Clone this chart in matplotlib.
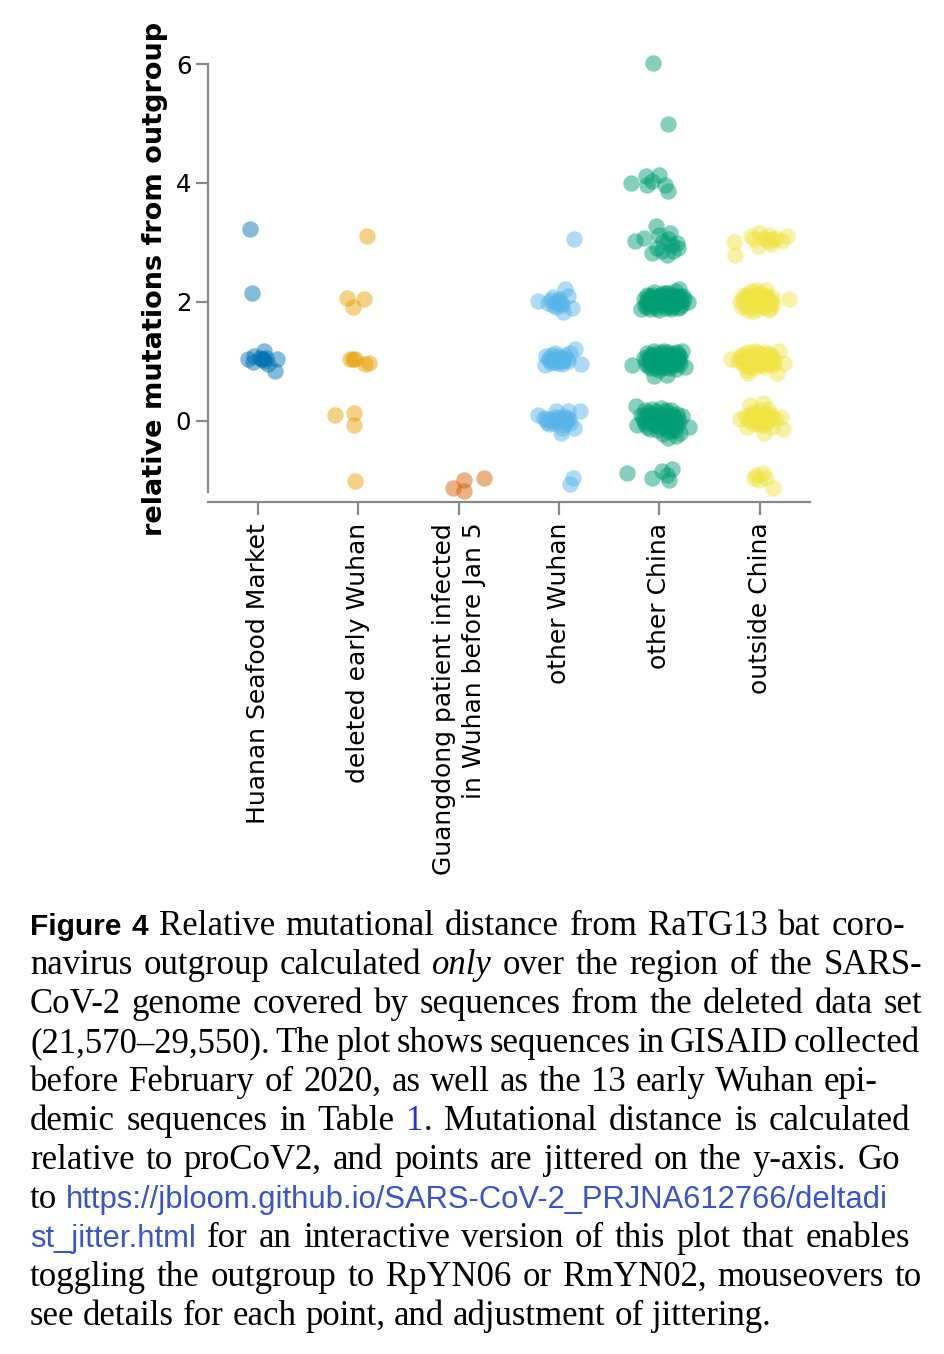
import matplotlib
matplotlib.use("Agg")
import matplotlib.pyplot as plt

# categories and colours (Okabe-Ito)
categories = ["Huanan Seafood Market", "deleted early Wuhan",
              "Guangdong patient infected\nin Wuhan before Jan 5",
              "other Wuhan", "other China", "outside China"]
colors = ["#0072B2", "#E69F00", "#D55E00", "#56B4E9", "#009E73", "#F0E442"]

# points: (horizontal jitter, relative mutations)
huanan = [(-0.08, 3.22), (-0.06, 2.15), (-0.10, 1.04), (-0.04, 1.08), (-0.05, 0.99),
          (0.06, 1.17), (0.05, 1.04), (0.10, 0.96), (0.19, 1.04), (0.17, 0.83),
          (0.02, 1.06), (0.08, 1.06), (0.04, 1.03), (0.06, 1.00)]
deleted = [(0.08, 3.10), (-0.11, 2.07), (0.05, 2.05), (-0.05, 1.91), (-0.05, 1.04),
           (-0.03, 1.04), (0.10, 0.97), (0.06, 0.95), (-0.23, 0.10), (-0.04, 0.13),
           (-0.04, -0.08), (-0.03, -1.01), (-0.08, 1.04)]
guangdong = [(-0.06, -1.13), (0.05, -0.99), (0.05, -1.19), (0.25, -0.96)]
other_wuhan = [(0.15, 3.05),
               (-0.21, 2.01), (-0.11, 1.98), (-0.06, 2.08), (-0.01, 2.01), (0.06, 2.21),
               (0.09, 2.09), (0.13, 1.90), (0.04, 1.82), (-0.03, 1.92), (0.02, 1.98),
               (-0.08, 2.03), (-0.04, 1.98), (0.00, 2.05), (0.03, 1.94), (-0.06, 1.95),
               (-0.13, 1.08), (-0.14, 0.93), (-0.04, 1.14), (0.02, 1.06), (0.09, 1.00),
               (0.16, 1.20), (0.22, 0.95), (-0.08, 0.97), (-0.01, 0.97), (0.06, 1.11),
               (0.11, 1.14), (-0.06, 1.03), (0.00, 1.05), (0.04, 1.00), (-0.10, 1.02),
               (-0.10, 1.06), (-0.05, 0.99), (-0.02, 1.08), (0.01, 1.01), (0.05, 1.06),
               (0.08, 1.04), (-0.07, 1.10), (0.03, 0.96),
               (-0.21, 0.10), (-0.13, 0.02), (-0.03, 0.16), (0.09, 0.16), (0.21, 0.16),
               (-0.06, -0.04), (0.02, -0.21), (0.15, -0.12), (0.06, 0.02), (-0.01, -0.01),
               (-0.09, 0.02), (0.11, -0.04), (-0.04, 0.06), (0.04, -0.08), (0.08, 0.03),
               (-0.15, 0.04), (-0.10, -0.06), (-0.05, 0.00), (0.00, 0.04), (0.03, -0.12),
               (0.07, -0.02), (0.10, 0.02), (-0.12, -0.02), (0.05, 0.08),
               (0.14, -0.97), (0.11, -1.07)]
other_china = [(-0.06, 6.01), (0.08, 4.99),
               (-0.28, 4.00), (-0.13, 4.11), (-0.12, 3.97), (0.00, 4.14), (-0.07, 4.03),
               (0.05, 3.97), (0.08, 3.86),
               (-0.24, 3.03), (-0.15, 3.08), (-0.03, 3.27), (0.00, 3.13), (0.10, 3.16),
               (-0.02, 2.91), (0.07, 2.79), (0.17, 2.99), (0.18, 2.91), (0.03, 3.02),
               (0.12, 2.96), (-0.07, 2.82), (0.08, 3.05), (0.13, 2.86), (0.02, 2.86),
               (-0.15, 2.05), (-0.14, 1.93), (-0.12, 2.12), (-0.10, 1.98), (-0.09, 1.88),
               (-0.07, 2.08), (-0.05, 2.17), (-0.04, 1.95), (-0.02, 2.03), (0.00, 1.86),
               (0.01, 2.12), (0.03, 1.98), (0.05, 2.07), (0.06, 1.90), (0.08, 2.15),
               (0.09, 2.00), (0.11, 1.88), (0.12, 2.08), (0.14, 1.96), (0.15, 2.18),
               (0.17, 2.03), (0.18, 1.89), (0.20, 2.10), (0.22, 1.97), (0.24, 2.05),
               (-0.11, 2.03), (0.04, 2.10), (0.10, 1.93), (-0.06, 2.00), (0.19, 2.22),
               (0.28, 2.00), (-0.18, 1.88),
               (-0.13, 2.00), (-0.10, 2.10), (-0.08, 1.95), (-0.06, 2.12), (-0.03, 1.90),
               (-0.01, 2.08), (0.02, 1.95), (0.04, 2.02), (0.06, 2.14), (0.07, 1.97),
               (0.10, 2.06), (0.12, 1.92), (0.13, 2.12), (0.16, 1.98), (0.18, 2.08),
               (0.20, 1.92), (0.21, 2.02), (-0.08, 2.04), (0.00, 2.00), (0.08, 2.08),
               (0.15, 2.04), (-0.12, 1.92), (0.03, 2.15), (0.11, 2.00), (0.23, 2.10),
               (-0.27, 0.93), (-0.15, 1.05), (-0.13, 0.95), (-0.12, 1.13), (-0.10, 1.00),
               (-0.08, 0.88), (-0.06, 1.08), (-0.05, 1.17), (-0.03, 0.97), (-0.01, 1.04),
               (0.00, 0.85), (0.02, 1.12), (0.03, 0.99), (0.05, 1.06), (0.06, 0.90),
               (0.08, 1.15), (0.09, 1.01), (0.11, 0.94), (0.12, 1.09), (0.14, 0.98),
               (0.15, 1.14), (0.16, 0.87), (0.18, 1.04), (0.20, 0.95), (0.22, 1.17),
               (0.25, 0.91), (-0.05, 0.75), (0.07, 0.76), (-0.09, 1.10), (0.10, 1.03),
               (-0.02, 0.92), (0.13, 1.06), (0.04, 1.18), (0.19, 1.10),
               (-0.13, 1.02), (-0.11, 0.92), (-0.09, 1.05), (-0.07, 0.96), (-0.05, 1.12),
               (-0.04, 0.88), (-0.02, 1.08), (0.00, 0.97), (0.01, 1.15), (0.03, 0.90),
               (0.04, 1.05), (0.06, 0.97), (0.07, 1.10), (0.09, 0.88), (0.10, 1.12),
               (0.12, 0.96), (0.13, 1.02), (0.15, 0.93), (0.16, 1.08), (0.18, 0.98),
               (0.20, 1.06), (-0.08, 1.00), (0.05, 1.00), (0.11, 1.04), (-0.01, 1.00),
               (0.17, 1.15),
               (-0.23, 0.24), (-0.22, -0.07), (-0.18, 0.10), (-0.15, 0.00), (-0.14, 0.18),
               (-0.12, -0.10), (-0.10, 0.08), (-0.07, 0.20), (-0.06, -0.03), (-0.04, 0.12),
               (-0.02, -0.15), (0.00, 0.05), (0.01, 0.22), (0.03, -0.06), (0.05, 0.14),
               (0.06, 0.00), (0.08, -0.18), (0.09, 0.09), (0.11, 0.18), (0.12, -0.04),
               (0.14, 0.06), (0.15, -0.15), (0.17, 0.12), (0.19, -0.02), (0.20, -0.21),
               (0.22, 0.08), (0.29, -0.10), (0.08, -0.29), (-0.08, 0.02), (0.03, -0.22),
               (-0.11, 0.15), (0.16, -0.25),
               (-0.16, 0.05), (-0.14, -0.05), (-0.12, 0.10), (-0.10, -0.02), (-0.08, 0.12),
               (-0.06, 0.06), (-0.04, -0.08), (-0.02, 0.02), (0.00, -0.10), (0.02, 0.10),
               (0.04, 0.02), (0.05, -0.12), (0.07, 0.07), (0.09, -0.05), (0.10, 0.03),
               (0.12, 0.12), (0.13, -0.12), (0.15, 0.00), (0.17, -0.08), (0.18, 0.05),
               (-0.03, 0.16), (0.06, 0.18), (-0.09, -0.14), (0.11, -0.18), (0.00, 0.00),
               (-0.32, -0.88), (-0.07, -0.97), (0.02, -0.85), (0.12, -0.82), (0.09, -0.99),
               (0.07, -0.91)]
outside_china = [(-0.26, 3.00), (-0.25, 2.78), (-0.09, 3.10), (-0.01, 3.16), (-0.02, 2.93),
                 (0.09, 3.13), (0.11, 2.98), (0.22, 3.02), (0.27, 3.10), (0.04, 3.08),
                 (0.16, 3.08), (-0.06, 3.05), (0.12, 3.06), (0.08, 3.03),
                 (-0.20, 2.02), (-0.18, 1.92), (-0.16, 2.12), (-0.14, 2.00), (-0.12, 1.86),
                 (-0.10, 2.08), (-0.08, 2.18), (-0.06, 1.96), (-0.04, 2.05), (-0.02, 1.88),
                 (0.00, 2.14), (0.02, 2.00), (0.04, 1.92), (0.06, 2.10), (0.08, 2.03),
                 (0.10, 1.90), (0.12, 2.08), (0.13, 1.97), (-0.11, 2.15), (-0.03, 2.20),
                 (0.06, 2.20), (0.29, 2.05), (-0.07, 1.84), (0.09, 1.86), (0.01, 2.06),
                 (-0.17, 2.04), (-0.15, 1.95), (-0.13, 2.08), (-0.11, 1.98), (-0.09, 1.92),
                 (-0.07, 2.10), (-0.05, 2.00), (-0.03, 2.08), (-0.01, 1.95), (0.01, 2.12),
                 (0.03, 2.04), (0.05, 1.97), (0.07, 2.06), (0.09, 1.96), (0.11, 2.02),
                 (-0.10, 2.03), (0.00, 2.02),
                 (-0.29, 1.03), (0.24, 0.97), (0.17, 0.80), (0.19, 1.17), (-0.12, 0.80),
                 (-0.22, 1.00), (-0.19, 1.10), (-0.16, 0.93), (-0.14, 1.05), (-0.12, 1.15),
                 (-0.10, 0.97), (-0.08, 1.08), (-0.06, 0.88), (-0.04, 1.02), (-0.02, 1.14),
                 (0.00, 0.95), (0.02, 1.06), (0.04, 0.91), (0.06, 1.03), (0.08, 1.12),
                 (0.10, 0.96), (0.12, 1.05), (0.14, 0.99), (-0.05, 1.18), (0.05, 1.16),
                 (-0.13, 0.86),
                 (-0.20, 1.05), (-0.17, 0.98), (-0.15, 1.12), (-0.13, 1.00), (-0.11, 0.92),
                 (-0.09, 1.04), (-0.07, 1.13), (-0.05, 0.96), (-0.03, 1.06), (-0.01, 0.93),
                 (0.01, 1.10), (0.03, 1.00), (0.05, 0.95), (0.07, 1.07), (0.09, 1.01),
                 (0.11, 1.10), (0.13, 0.94), (-0.06, 1.02), (0.00, 1.04),
                 (-0.20, 0.02), (0.21, 0.07), (0.23, -0.14), (0.04, -0.21), (0.03, 0.30),
                 (-0.10, 0.27), (-0.13, -0.10), (-0.15, 0.08), (-0.08, 0.15), (-0.06, -0.05),
                 (-0.03, 0.05), (0.00, 0.18), (0.01, -0.08), (0.05, 0.08), (0.07, -0.03),
                 (0.10, 0.12), (0.12, -0.10), (0.15, 0.03), (-0.10, 0.00), (0.08, 0.20),
                 (-0.12, 0.05), (-0.07, 0.08), (-0.05, 0.00), (-0.02, 0.12), (0.02, 0.03),
                 (0.04, -0.05), (0.06, 0.12), (0.09, 0.03), (0.12, 0.05), (-0.09, 0.10),
                 (0.00, -0.02),
                 (-0.04, -0.91), (0.03, -0.88), (-0.01, -0.99), (0.06, -0.97), (0.13, -1.13),
                 (-0.06, -0.97)]
groups = [huanan, deleted, guangdong, other_wuhan, other_china, outside_china]
yticks = [0, 2, 4, 6]

# caption: (text, style) segments per printed line
caption = [
    [("Figure 4", "b"), (" Relative mutational distance from RaTG13 bat coro-", "r")],
    [("navirus outgroup calculated ", "r"), ("only", "i"), (" over the region of the SARS-", "r")],
    [("CoV-2 genome covered by sequences from the deleted data set", "r")],
    [("(21,570\u201329,550). The plot shows sequences in GISAID collected", "r")],
    [("before February of 2020, as well as the 13 early Wuhan epi-", "r")],
    [("demic sequences in Table ", "r"), ("1", "l"), (". Mutational distance is calculated", "r")],
    [("relative to proCoV2, and points are jittered on the y-axis. Go", "r")],
    [("to ", "r"), ("https://jbloom.github.io/SARS-CoV-2_PRJNA612766/deltadi", "u")],
    [("st_jitter.html", "u"), (" for an interactive version of this plot that enables", "r")],
    [("toggling the outgroup to RpYN06 or RmYN02, mouseovers to", "r")],
    [("see details for each point, and adjustment of jittering.", "r")],
]
line_ends = [905, 922, 922, 920, 878, 910, 900, None, 910, 922, None]

W, H = 944, 1354
fig = plt.figure(figsize=(W / 100, H / 100), dpi=100)

ax = fig.add_axes([208 / W, 1 - 492 / H, 602 / W, 428 / H])
ax.set_facecolor("none")
for i, pts in enumerate(groups):
    xs = [i + p[0] for p in pts]
    ys = [p[1] for p in pts]
    ax.scatter(xs, ys, s=140, color=colors[i], alpha=0.48, linewidths=0,
               clip_on=False, zorder=3)

ax.set_xlim(-0.5, 5.5)
ax.set_ylim(-1.2, 6)
for side in ["top", "right"]:
    ax.spines[side].set_visible(False)
for side in ["left", "bottom"]:
    ax.spines[side].set_color("#888888")
    ax.spines[side].set_linewidth(1.6)
ax.spines["bottom"].set_position(("outward", 7.2))

ax.set_yticks(yticks)
ax.set_xticks(range(len(categories)))
ax.set_xticklabels(categories, rotation=90, va="top", ha="center",
                   multialignment="right", linespacing=1.3)
ax.tick_params(axis="both", colors="#888888", width=1.6, length=9,
               labelcolor="black")
ax.tick_params(axis="x", pad=6, labelsize=18)
ax.tick_params(axis="y", pad=3, labelsize=17.5)

fig.text(155 / W, 1 - 279 / H, "relative mutations from outgroup", rotation=90,
         ha="center", va="center", fontsize=19.5, fontweight="bold")

# caption, laid out word by word so the lines are justified
styles = {
    "r": dict(family="Liberation Serif", size=25),
    "i": dict(family="Liberation Serif", size=25, style="italic"),
    "b": dict(family="Liberation Sans", size=21.5, weight="bold"),
    "l": dict(family="Liberation Serif", size=25, color="#2233dd"),
    "u": dict(family="Liberation Sans", size=22.3, color="#3a55c8"),
}
renderer = fig.canvas.get_renderer()


def text_width(s, st):
    t = fig.text(0, 0, s, **styles[st])
    w = t.get_window_extent(renderer).width
    t.remove()
    return w


space_w = text_width("a a", "r") - text_width("aa", "r")
x0 = 30
for k, segs in enumerate(caption):
    words = []
    new_word = True
    for text, st in segs:
        for j, part in enumerate(text.split(" ")):
            if j > 0:
                new_word = True
            if part == "":
                continue
            if new_word:
                words.append([(part, st)])
                new_word = False
            else:
                words[-1].append((part, st))
    widths = [[text_width(p, st) for p, st in w] for w in words]
    total = sum(sum(w) for w in widths)
    gap = space_w
    if line_ends[k] is not None and len(words) > 1:
        gap = (line_ends[k] - x0 - total) / (len(words) - 1)
    y = 1 - (935 + 39 * k) / H
    x = x0
    for w, ws in zip(words, widths):
        for (p, st), pw in zip(w, ws):
            fig.text(x / W, y, p, va="baseline", ha="left", **styles[st])
            x += pw
        x += gap

fig.savefig("out.png", dpi=100)
